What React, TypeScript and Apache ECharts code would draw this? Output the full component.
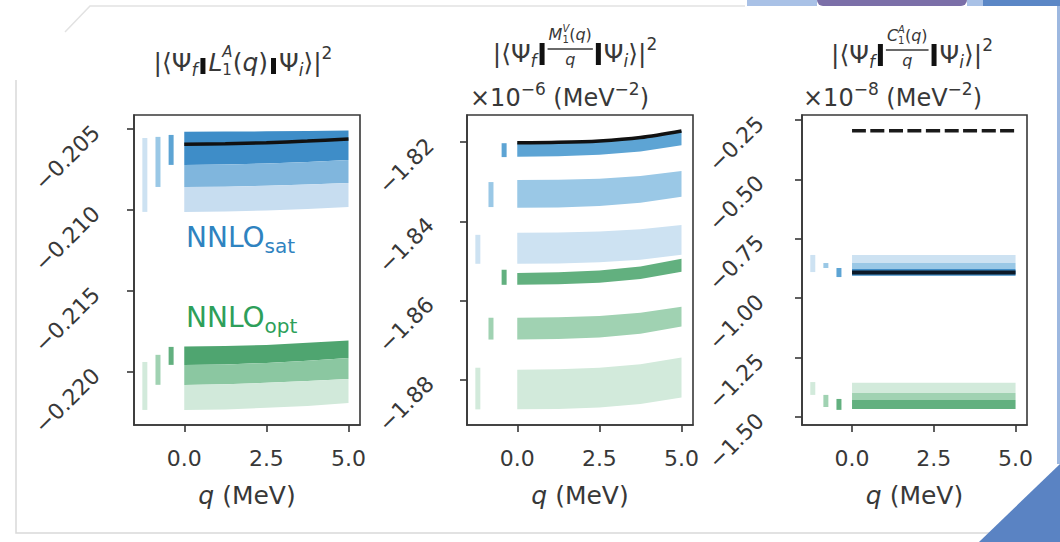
import React, { useEffect, useRef } from 'react';
import * as echarts from 'echarts';

const FONT = '"DejaVu Sans", "Noto Sans", sans-serif';
const INK = '#383838';

// momentum grid (MeV) on which the bands are tabulated
const Q = [0, 1.25, 2.5, 3.75, 5];
const Q_FLAT = [0, 5];
const X_TICKS = [0, 2.5, 5];

// ---- panel 1: |<Ψf||L1A(q)||Ψi>|^2 ----
const Y1_TICKS = [-0.205, -0.21, -0.215, -0.22];
const l1SatTop = [-0.20517, -0.20516, -0.20515, -0.20512, -0.20509];
const l1SatEdge1 = [-0.20722, -0.2072, -0.20713, -0.20704, -0.20691];
const l1SatEdge2 = [-0.20858, -0.20856, -0.20851, -0.20843, -0.20833];
const l1SatBottom = [-0.21012, -0.2101, -0.21003, -0.20994, -0.20981];
const l1SatCentral = [-0.20594, -0.20591, -0.20585, -0.20575, -0.20562];
const l1OptTop = [-0.21843, -0.2184, -0.21833, -0.2182, -0.21806];
const l1OptEdge1 = [-0.21956, -0.21953, -0.21944, -0.21931, -0.21913];
const l1OptEdge2 = [-0.2208, -0.22076, -0.22067, -0.22056, -0.22043];
const l1OptBottom = [-0.22234, -0.22231, -0.22221, -0.22209, -0.22191];
// [q, upper, lower] of the single-point markers left of q = 0
const l1SatMarks = [[-1.2, -0.20556, -0.21012], [-0.8, -0.20549, -0.20858], [-0.4, -0.20537, -0.20722]];
const l1OptMarks = [[-1.2, -0.21938, -0.22234], [-0.8, -0.21894, -0.22079], [-0.4, -0.21845, -0.21956]];

// ---- panel 2: |<Ψf||M1V(q)/q||Ψi>|^2  (×10^-6 MeV^-2) ----
const Y2_TICKS = [-1.82, -1.84, -1.86, -1.88];
const m1SatDarkHi = [-1.8202, -1.82008, -1.81972, -1.81885, -1.8172];
const m1SatDarkLo = [-1.8237, -1.82358, -1.82324, -1.8224, -1.8208];
const m1SatMidHi = [-1.8296, -1.82951, -1.82923, -1.82857, -1.8273];
const m1SatMidLo = [-1.8366, -1.83649, -1.83615, -1.83534, -1.8338];
const m1SatLightHi = [-1.8429, -1.84282, -1.84258, -1.842, -1.8409];
const m1SatLightLo = [-1.8507, -1.85061, -1.85033, -1.84967, -1.8484];
const m1OptDarkHi = [-1.853, -1.85286, -1.85242, -1.85138, -1.8494];
const m1OptDarkLo = [-1.856, -1.85587, -1.85547, -1.85452, -1.8527];
const m1OptMidHi = [-1.8643, -1.86419, -1.86385, -1.86304, -1.8615];
const m1OptMidLo = [-1.8698, -1.86967, -1.86927, -1.86832, -1.8665];
const m1OptLightHi = [-1.8774, -1.87728, -1.8769, -1.87601, -1.8743];
const m1OptLightLo = [-1.8874, -1.88728, -1.88692, -1.88605, -1.8844];
const m1SatCentral = [-1.8202, -1.82008, -1.81972, -1.81885, -1.8172];
const m1SatMarks = [[-1.2, -1.8434, -1.8507], [-0.8, -1.8301, -1.8364], [-0.4, -1.8203, -1.8238]];
const m1OptMarks = [[-1.2, -1.8769, -1.8874], [-0.8, -1.8643, -1.8698], [-0.4, -1.8522, -1.856]];

// ---- panel 3: |<Ψf||C1A(q)/q||Ψi>|^2  (×10^-8 MeV^-2) ----
const Y3_TICKS = [-0.25, -0.5, -0.75, -1.0, -1.25, -1.5];
const c1SatLight = [-0.818, -0.852];
const c1SatMid = [-0.852, -0.877];
const c1SatDark = [-0.877, -0.905];
const c1SatCentral = [-0.892, -0.892];
const c1Reference = [-0.295, -0.295];
const c1OptLight = [-1.356, -1.399];
const c1OptMid = [-1.399, -1.428];
const c1OptDark = [-1.428, -1.466];
const c1SatMarks = [[-1.2, -0.818, -0.89], [-0.8, -0.852, -0.873], [-0.4, -0.873, -0.911]];
const c1OptMarks = [[-1.2, -1.353, -1.407], [-0.8, -1.407, -1.458], [-0.4, -1.424, -1.47]];

const BLUE = { light: '#cde2f2', mid: '#9ac8e6', dark: '#5da4d4' };
const GREEN = { light: '#d2eadb', mid: '#a0d2b2', dark: '#62b07f' };
const BLUE_NEST = { top: '#3e8dc8', mid: '#80b6dd', bottom: '#c7ddf0' };
const GREEN_NEST = { top: '#4fa570', mid: '#8bc7a1', bottom: '#d1e9da' };

type Band = { q: number[]; hi: number[]; lo: number[]; color: string };

function bandSeries(axis: number, bands: Band[]) {
  return {
    type: 'custom',
    xAxisIndex: axis,
    yAxisIndex: axis,
    silent: true,
    z: 2,
    data: bands.map((_, i) => [i]),
    renderItem: (params: any, api: any) => {
      const b = bands[params.dataIndex];
      const pts: number[][] = [];
      b.q.forEach((q, k) => pts.push(api.coord([q, b.hi[k]])));
      for (let k = b.q.length - 1; k >= 0; k--) pts.push(api.coord([b.q[k], b.lo[k]]));
      return { type: 'polygon', shape: { points: pts }, style: { fill: b.color } };
    },
  };
}

function markSeries(axis: number, marks: number[][], colors: string[]) {
  return {
    type: 'custom',
    xAxisIndex: axis,
    yAxisIndex: axis,
    silent: true,
    z: 3,
    data: marks,
    renderItem: (params: any, api: any) => {
      const top = api.coord([api.value(0), api.value(1)]);
      const bot = api.coord([api.value(0), api.value(2)]);
      return {
        type: 'rect',
        shape: { x: top[0] - 2.5, y: top[1], width: 5, height: bot[1] - top[1] },
        style: { fill: colors[params.dataIndex] },
      };
    },
  };
}

function lineSeries(axis: number, qs: number[], vals: number[], color: string, width: number, dash?: number[]) {
  return {
    type: 'line',
    xAxisIndex: axis,
    yAxisIndex: axis,
    silent: true,
    z: 4,
    showSymbol: false,
    smooth: 0.3,
    data: qs.map((q, i) => [q, vals[i]]),
    lineStyle: { color, width, type: dash ? dash : 'solid', cap: 'butt' },
  };
}

// ---- small math-text layout for the panel headers ----
const measureCtx = document.createElement('canvas').getContext('2d') as CanvasRenderingContext2D;
function textWidth(s: string, size: number, italic?: boolean) {
  measureCtx.font = `${italic ? 'italic ' : ''}${size}px "DejaVu Sans"`;
  return measureCtx.measureText(s).width;
}

type Piece = {
  t?: string;
  size?: number;
  it?: boolean;
  dy?: number;
  hold?: boolean;
  gap?: number;
  bar?: { w: number; h: number; dy: number };
  frac?: { num: Piece[]; den: Piece[]; numDy: number; denDy: number; lineDy: number };
};

function layoutRow(ps: Piece[], x0: number, yMid: number, color: string): { w: number; els: any[] } {
  const els: any[] = [];
  let x = x0;
  let held = 0;
  for (const p of ps) {
    if (p.gap != null) {
      x += p.gap;
      continue;
    }
    let w = 0;
    if (p.bar) {
      els.push({
        type: 'rect',
        shape: { x, y: yMid + p.bar.dy - p.bar.h / 2, width: p.bar.w, height: p.bar.h },
        style: { fill: '#111' },
      });
      w = p.bar.w;
    } else if (p.frac) {
      const nw = layoutRow(p.frac.num, 0, 0, color).w;
      const dw = layoutRow(p.frac.den, 0, 0, color).w;
      const fw = Math.max(nw, dw) + 2;
      els.push(...layoutRow(p.frac.num, x + (fw - nw) / 2, yMid + p.frac.numDy, color).els);
      els.push(...layoutRow(p.frac.den, x + (fw - dw) / 2, yMid + p.frac.denDy, color).els);
      els.push({
        type: 'line',
        shape: { x1: x, y1: yMid + p.frac.lineDy, x2: x + fw, y2: yMid + p.frac.lineDy },
        style: { stroke: color, lineWidth: 1.3 },
      });
      w = fw;
    } else if (p.t) {
      const size = p.size || 24;
      w = textWidth(p.t, size, p.it);
      els.push({
        type: 'text',
        x,
        y: yMid + (p.dy || 0),
        style: {
          text: p.t,
          fontSize: size,
          lineHeight: size,
          fontFamily: FONT,
          fontStyle: p.it ? 'italic' : 'normal',
          fill: color,
          align: 'left',
          verticalAlign: 'middle',
          textAlign: 'left',
          textVerticalAlign: 'middle',
        },
      });
    }
    if (p.hold) {
      held = w;
      continue;
    }
    x += Math.max(w, held);
    held = 0;
  }
  return { w: x - x0, els };
}

function centeredRow(ps: Piece[], cx: number, yMid: number, color: string) {
  const w = layoutRow(ps, 0, 0, color).w;
  return layoutRow(ps, cx - w / 2, yMid, color).els;
}

const S = 25;
const s = 17;
const bra = (bar: { w: number; h: number; dy: number }): Piece[] => [
  { t: '|⟨Ψ', size: S },
  { t: 'f', size: s, it: true, dy: 8 },
  { gap: 3 },
  { bar },
];
const ket = (bar: { w: number; h: number; dy: number }): Piece[] => [
  { gap: 3 },
  { bar },
  { gap: 3 },
  { t: 'Ψ', size: S },
  { t: 'i', size: s, it: true, dy: 8 },
  { t: '⟩|', size: S },
  { t: '2', size: s, dy: -9 },
];
const fracOf = (letter: string, upper: string): Piece => ({
  frac: {
    num: [
      { t: letter, size: 16, it: true },
      { t: upper, size: 10, it: true, dy: -6, hold: true },
      { t: '1', size: 10, dy: 5 },
      { t: '(', size: 16 },
      { t: 'q', size: 16, it: true },
      { t: ')', size: 16 },
    ],
    den: [{ t: 'q', size: 16, it: true }],
    numDy: -19,
    denDy: 6,
    lineDy: -4,
  },
});

const barSmall = { w: 5, h: 16, dy: 4 };
const barTall = { w: 5, h: 22, dy: 1 };

const title1: Piece[] = [
  ...bra(barSmall),
  { gap: 3 },
  { t: 'L', size: S, it: true },
  { t: 'A', size: 15, it: true, dy: -10, hold: true },
  { t: '1', size: 15, dy: 8 },
  { t: '(', size: S },
  { t: 'q', size: S, it: true },
  { t: ')', size: S },
  ...ket(barSmall),
];
const title2: Piece[] = [...bra(barTall), { gap: 3 }, fracOf('M', 'V'), ...ket(barTall)];
const title3: Piece[] = [...bra(barTall), { gap: 3 }, fracOf('C', 'A'), ...ket(barTall)];
const offsetText = (exp: string): Piece[] => [
  { t: '×10', size: 24 },
  { t: '−' + exp, size: 17, dy: -9 },
  { t: ' (MeV', size: 24 },
  { t: '−2', size: 17, dy: -9 },
  { t: ')', size: 24 },
];

function label(main: string, sub: string, x: number, baseline: number, color: string) {
  const big = 28;
  const small = 20;
  return [
    {
      type: 'text',
      x,
      y: baseline - 0.35 * big,
      style: { text: main, fontSize: big, fontFamily: FONT, fill: color, align: 'left', verticalAlign: 'middle', textAlign: 'left', textVerticalAlign: 'middle' },
    },
    {
      type: 'text',
      x: x + textWidth(main, big),
      y: baseline + 6 - 0.35 * small,
      style: { text: sub, fontSize: small, fontFamily: FONT, fill: color, align: 'left', verticalAlign: 'middle', textAlign: 'left', textVerticalAlign: 'middle' },
    },
  ];
}

const GRIDS = [
  { left: 134, top: 115, width: 226, height: 310 },
  { left: 467, top: 115, width: 226, height: 310 },
  { left: 802, top: 115, width: 225, height: 310 },
];

function xAxis(i: number) {
  return {
    type: 'value',
    gridIndex: i,
    min: -1.53,
    max: 5.35,
    splitLine: { show: false },
    axisLine: { show: true, onZero: false, lineStyle: { color: INK, width: 1.6 } },
    axisTick: { show: true, length: 7, customValues: X_TICKS, lineStyle: { color: INK, width: 1.6 } },
    axisLabel: {
      customValues: X_TICKS,
      formatter: (v: number) => v.toFixed(1),
      fontSize: 22,
      fontFamily: FONT,
      color: INK,
      margin: 22,
    },
    name: '{i|q} (MeV)',
    nameLocation: 'middle',
    nameGap: 58,
    nameTextStyle: {
      fontSize: 25,
      fontFamily: FONT,
      color: INK,
      rich: { i: { fontSize: 25, fontFamily: FONT, fontStyle: 'italic', color: INK } },
    },
  };
}

function yAxis(i: number, min: number, max: number, ticks: number[], dec: number, margin: number) {
  return {
    type: 'value',
    gridIndex: i,
    min,
    max,
    splitLine: { show: false },
    axisLine: { show: true, onZero: false, lineStyle: { color: INK, width: 1.6 } },
    axisTick: { show: true, length: 7, customValues: ticks, lineStyle: { color: INK, width: 1.6 } },
    axisLabel: {
      customValues: ticks,
      rotate: 45,
      margin,
      align: 'right',
      verticalAlign: 'middle',
      formatter: (v: number) => '\u2212' + Math.abs(v).toFixed(dec),
      fontSize: 22,
      fontFamily: FONT,
      color: INK,
    },
  };
}

function buildOption() {
  const series: any[] = [
    // panel 1
    bandSeries(0, [
      { q: Q, hi: l1SatTop, lo: l1SatEdge1, color: BLUE_NEST.top },
      { q: Q, hi: l1SatEdge1, lo: l1SatEdge2, color: BLUE_NEST.mid },
      { q: Q, hi: l1SatEdge2, lo: l1SatBottom, color: BLUE_NEST.bottom },
      { q: Q, hi: l1OptTop, lo: l1OptEdge1, color: GREEN_NEST.top },
      { q: Q, hi: l1OptEdge1, lo: l1OptEdge2, color: GREEN_NEST.mid },
      { q: Q, hi: l1OptEdge2, lo: l1OptBottom, color: GREEN_NEST.bottom },
    ]),
    markSeries(0, l1SatMarks, [BLUE.light, BLUE.mid, BLUE.dark]),
    markSeries(0, l1OptMarks, [GREEN.light, GREEN.mid, GREEN.dark]),
    lineSeries(0, Q, l1SatCentral, '#111', 3.5),
    // panel 2
    bandSeries(1, [
      { q: Q, hi: m1SatDarkHi, lo: m1SatDarkLo, color: BLUE.dark },
      { q: Q, hi: m1SatMidHi, lo: m1SatMidLo, color: BLUE.mid },
      { q: Q, hi: m1SatLightHi, lo: m1SatLightLo, color: BLUE.light },
      { q: Q, hi: m1OptDarkHi, lo: m1OptDarkLo, color: GREEN.dark },
      { q: Q, hi: m1OptMidHi, lo: m1OptMidLo, color: GREEN.mid },
      { q: Q, hi: m1OptLightHi, lo: m1OptLightLo, color: GREEN.light },
    ]),
    markSeries(1, m1SatMarks, [BLUE.light, BLUE.mid, BLUE.dark]),
    markSeries(1, m1OptMarks, [GREEN.light, GREEN.mid, GREEN.dark]),
    lineSeries(1, Q, m1SatCentral, '#111', 3.5),
    // panel 3
    bandSeries(2, [
      { q: Q_FLAT, hi: [c1SatLight[0], c1SatLight[0]], lo: [c1SatLight[1], c1SatLight[1]], color: BLUE.light },
      { q: Q_FLAT, hi: [c1SatMid[0], c1SatMid[0]], lo: [c1SatMid[1], c1SatMid[1]], color: BLUE.mid },
      { q: Q_FLAT, hi: [c1SatDark[0], c1SatDark[0]], lo: [c1SatDark[1], c1SatDark[1]], color: '#3f8cc6' },
      { q: Q_FLAT, hi: [c1OptLight[0], c1OptLight[0]], lo: [c1OptLight[1], c1OptLight[1]], color: GREEN.light },
      { q: Q_FLAT, hi: [c1OptMid[0], c1OptMid[0]], lo: [c1OptMid[1], c1OptMid[1]], color: GREEN.mid },
      { q: Q_FLAT, hi: [c1OptDark[0], c1OptDark[0]], lo: [c1OptDark[1], c1OptDark[1]], color: GREEN.dark },
    ]),
    markSeries(2, c1SatMarks, [BLUE.light, BLUE.mid, BLUE.dark]),
    markSeries(2, c1OptMarks, [GREEN.light, GREEN.mid, GREEN.dark]),
    lineSeries(2, Q_FLAT, c1SatCentral, '#0d1a28', 4),
    lineSeries(2, Q_FLAT, c1Reference, '#1a1a1a', 3.5, [14, 4.5]),
  ];

  const graphic: any[] = [
    // slide frame and corner decorations
    { type: 'polyline', shape: { points: [[16, 80], [16, 533], [990, 533]] }, style: { stroke: '#d9d9d9', lineWidth: 1.5, fill: null } },
    { type: 'polyline', shape: { points: [[65, 32], [90, 6], [745, 6]] }, style: { stroke: '#e2e2e2', lineWidth: 1.5, fill: null } },
    { type: 'rect', shape: { x: 747, y: 0, width: 70, height: 6 }, style: { fill: '#a9c1e6' } },
    { type: 'rect', shape: { x: 817, y: 0, width: 150, height: 6, r: [0, 0, 6, 6] }, style: { fill: '#7b6fa8' } },
    { type: 'rect', shape: { x: 967, y: 0, width: 16, height: 6 }, style: { fill: '#a9c1e6' } },
    { type: 'rect', shape: { x: 983, y: 0, width: 77, height: 6 }, style: { fill: '#5b87c6' } },
    { type: 'rect', shape: { x: 1057, y: 6, width: 3, height: 458 }, style: { fill: '#9db8e0' } },
    { type: 'polygon', shape: { points: [[1060, 464], [1060, 542], [979, 542]] }, style: { fill: '#5a83c3' } },
    // panel headers
    ...centeredRow(title1, 243, 62, INK),
    ...centeredRow(title2, 575, 53, INK),
    ...centeredRow(title3, 912, 54, INK),
    ...layoutRow(offsetText('6'), 470, 98, INK).els,
    ...layoutRow(offsetText('8'), 803, 98, INK).els,
    // interaction labels
    ...label('NNLO', 'sat', 186, 247, '#2f83c0'),
    ...label('NNLO', 'opt', 186, 327, '#2e9f5a'),
  ];

  return {
    animation: false,
    backgroundColor: '#ffffff',
    grid: GRIDS.map((g) => ({ ...g, show: true, borderColor: INK, borderWidth: 1.6, backgroundColor: 'transparent' })),
    xAxis: [0, 1, 2].map(xAxis),
    yAxis: [
      yAxis(0, -0.22327, -0.20414, Y1_TICKS, 3, 38),
      yAxis(1, -1.89134, -1.81319, Y2_TICKS, 2, 37),
      yAxis(2, -1.53367, -0.22896, Y3_TICKS, 2, 42),
    ],
    series,
    graphic,
  };
}

export default function App() {
  const ref = useRef<HTMLDivElement>(null);
  useEffect(() => {
    if (!ref.current) return;
    const chart = echarts.init(ref.current, null, { renderer: 'svg' });
    chart.setOption(buildOption() as any);
    return () => chart.dispose();
  }, []);
  return (
    <div
      ref={ref}
      style={{ position: 'fixed', left: 0, top: 0, width: 1060, height: 542, background: '#ffffff' }}
    />
  );
}
